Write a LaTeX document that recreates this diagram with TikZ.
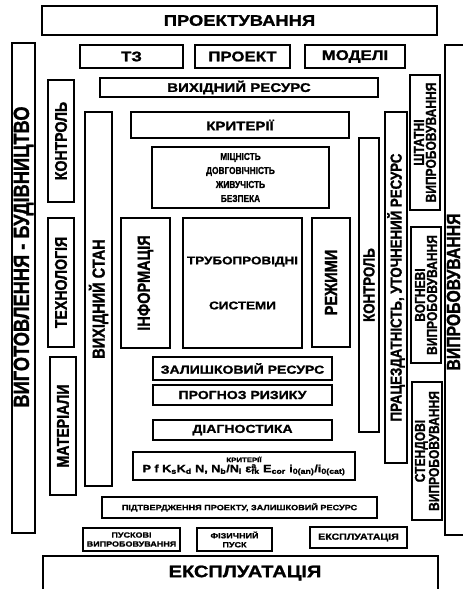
\documentclass[tikz,border=0pt]{standalone}
\usepackage{fontspec}
\setmainfont{Liberation Sans}
\newfontfamily\hfont[FakeStretch=1.2, FakeBold=1.2]{Liberation Sans}
\newfontfamily\vfont[FakeStretch=0.83, FakeBold=1.2]{Liberation Sans}

\tikzset{
  box/.style={draw, line width=1.5pt, inner sep=0pt, align=center},
  hlab/.style={font=\hfont\bfseries\fontsize{#1}{#1}\selectfont},
  vlab/.style={font=\vfont\bfseries\fontsize{#1}{#1}\selectfont, rotate=90},
}

\begin{document}
\begin{tikzpicture}[x=1pt, y=-1pt]
\path[use as bounding box, fill=white] (0,0) rectangle (463,589);
\clip (0,0) rectangle (463,589);
% design
\node[box, hlab=15.3, minimum width=395pt, minimum height=29pt] (proj) at (239.5,20.5) {ПРОЕКТУВАННЯ};
\node[box, hlab=14, minimum width=103pt, minimum height=23pt] (tz) at (131.5,56.5) {ТЗ};
\node[box, hlab=14, minimum width=95pt, minimum height=23pt] (proekt) at (242.5,56.5) {ПРОЕКТ};
\node[box, hlab=14, minimum width=100pt, minimum height=23pt] (modeli) at (355,56.5) {МОДЕЛІ};
\node[box, hlab=12.5, minimum width=278pt, minimum height=19pt] (vyhres) at (239,87.5) {ВИХІДНИЙ РЕСУРС};
% manufacturing side
\node[box, minimum width=23pt, minimum height=490pt] (vygotb) at (23.5,288) {};
\node[vlab=22, inner sep=0pt] (vygott) at (23.5,257) {ВИГОТОВЛЕННЯ - БУДІВНИЦТВО};
\node[box, vlab=17, minimum width=122pt, minimum height=26pt] (kontrl) at (61,141) {КОНТРОЛЬ};
\node[box, vlab=17, minimum width=129pt, minimum height=26pt] (tekhn) at (61,282.5) {ТЕХНОЛОГІЯ};
\node[box, vlab=17, minimum width=138pt, minimum height=26pt] (mater) at (63,426) {МАТЕРІАЛИ};
\node[box, vlab=17.5, minimum width=374pt, minimum height=27pt] (vyhst) at (98.5,299) {ВИХІДНИЙ СТАН};
% core
\node[box, hlab=12.5, minimum width=218pt, minimum height=26pt] (krytt) at (240,125) {КРИТЕРІЇ};
\node[box, font=\vfont\bfseries\fontsize{10}{14}\selectfont, minimum width=177pt, minimum height=61pt] (mitsn) at (240.5,177.5) {МІЦНІСТЬ\\ДОВГОВІЧНІСТЬ\\ЖИВУЧІСТЬ\\БЕЗПЕКА};
\node[box, vlab=17.5, minimum width=130pt, minimum height=49pt] (inform) at (145.5,283) {ІНФОРМАЦІЯ};
\node[box, font=\hfont\bfseries\fontsize{11.2}{13}\selectfont, minimum width=119pt, minimum height=130pt] (truby) at (242.5,283) {ТРУБОПРОВІДНІ\\[32pt]СИСТЕМИ};
\node[box, vlab=17.5, minimum width=129pt, minimum height=38pt] (rezh) at (331,282.5) {РЕЖИМИ};
\node[box, hlab=11.7, minimum width=179pt, minimum height=23pt] (zalysh) at (242.5,368.5) {ЗАЛИШКОВИЙ РЕСУРС};
\node[box, hlab=11.7, minimum width=179pt, minimum height=20pt] (prognoz) at (242.5,395) {ПРОГНОЗ РИЗИКУ};
\node[box, hlab=11.7, minimum width=179pt, minimum height=20pt] (diagn) at (242.5,430) {ДІАГНОСТИКА};
\node[box, font=\hfont\bfseries\fontsize{10.5}{10}\selectfont, minimum width=222pt, minimum height=28pt] (krytf) at (244,466) {{\fontsize{6.5}{6}\selectfont КРИТЕРІЇ}\\P f K\textsubscript{s}K\textsubscript{d} N, N\textsubscript{b}/N\textsubscript{i} ε\rlap{\textsuperscript{a}}\textsubscript{fk} E\textsubscript{cor} i\textsubscript{0(an)}/i\textsubscript{0(cat)}};
% testing side
\node[box, vlab=16, minimum width=294pt, minimum height=20pt] (kontrr) at (369,285) {КОНТРОЛЬ};
\node[box, vlab=16, minimum width=351pt, minimum height=22pt] (pratsz) at (396,287.5) {ПРАЦЕЗДАТНІСТЬ, УТОЧНЕНИЙ РЕСУРС};
\node[box, rotate=90, font=\vfont\bfseries\fontsize{14.5}{12}\selectfont, minimum width=135pt, minimum height=30pt] (shtat) at (425,142.5) {ШТАТНІ\\ВИПРОБОВУВАННЯ};
\node[box, rotate=90, font=\vfont\bfseries\fontsize{14.5}{12}\selectfont, minimum width=136pt, minimum height=30pt] (vogn) at (426,295) {ВОГНЕВІ\\ВИПРОБОВУВАННЯ};
\node[box, rotate=90, font=\vfont\bfseries\fontsize{14.5}{12}\selectfont, minimum width=138pt, minimum height=30pt] (stend) at (427,451) {СТЕНДОВІ\\ВИПРОБОВУВАННЯ};
\node[box, minimum width=26pt, minimum height=490pt] (vyprb) at (458,290) {};
\node[vlab=19, inner sep=0pt] (vyprt) at (453.5,292) {ВИПРОБОВУВАННЯ};
% commissioning
\node[box, hlab=7.6, minimum width=275pt, minimum height=21pt] (pidtv) at (239.5,507.5) {ПІДТВЕРДЖЕННЯ ПРОЕКТУ, ЗАЛИШКОВИЙ РЕСУРС};
\node[box, font=\hfont\bfseries\fontsize{7.5}{9}\selectfont, minimum width=97pt, minimum height=23pt] (pusk) at (131.5,539.5) {ПУСКОВІ\\ВИПРОБОВУВАННЯ};
\node[box, font=\hfont\bfseries\fontsize{7.5}{9}\selectfont, minimum width=75pt, minimum height=23pt] (fizp) at (234.5,539.5) {ФІЗИЧНИЙ\\ПУСК};
\node[box, hlab=8.8, minimum width=97pt, minimum height=21pt] (eksps) at (358.5,537.5) {ЕКСПЛУАТАЦІЯ};
\node[box, minimum width=395pt, minimum height=44pt] (ekspb) at (240.5,578) {};
\node[hlab=16.7] (ekspt) at (245,573) {ЕКСПЛУАТАЦІЯ};
\end{tikzpicture}
\end{document}
